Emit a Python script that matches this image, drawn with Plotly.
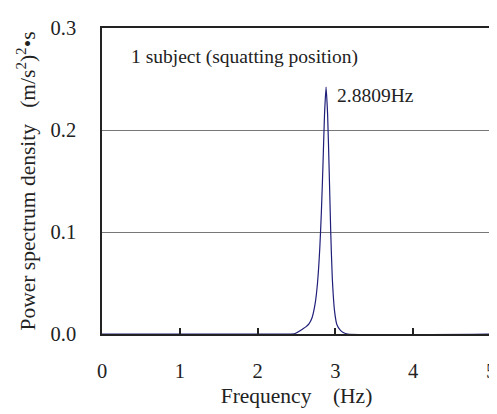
import plotly.graph_objects as go

freq = [0.0, 2.40, 2.48, 2.54, 2.58, 2.62, 2.66, 2.70, 2.74, 2.77, 2.80, 2.82, 2.84, 2.86, 2.88,
        2.90, 2.92, 2.94, 2.96, 2.99, 3.02, 3.06, 3.10, 3.16, 5.0]
psd = [0.0, 0.0, 0.0005, 0.003, 0.005, 0.007, 0.010, 0.016, 0.030, 0.050, 0.085, 0.120, 0.165, 0.215, 0.242,
       0.215, 0.160, 0.100, 0.055, 0.022, 0.009, 0.004, 0.0015, 0.0, 0.0]

x_ticks = [0, 1, 2, 3, 4, 5]
y_ticks = [0.0, 0.1, 0.2, 0.3]
y_tick_labels = ["0.0", "0.1", "0.2", "0.3"]
peak_label = "2.8809Hz"
note = "1 subject (squatting position)"

font = "Liberation Serif, Times New Roman, serif"
fs = 19.5
tfs = 21.5

fig = go.Figure()
fig.add_trace(go.Scatter(x=freq, y=psd, mode="lines",
                         line=dict(color="#1f1f7a", width=1.2, shape="spline", smoothing=0.5),
                         hoverinfo="skip", showlegend=False))

fig.add_annotation(x=2.995, y=0.2335, xref="x", yref="y", text=peak_label, showarrow=False,
                   xanchor="left", yanchor="middle", font=dict(family=font, size=fs, color="#222"))
fig.add_annotation(x=0.345, y=0.2715, xref="x", yref="y", text=note, showarrow=False,
                   xanchor="left", yanchor="middle", font=dict(family=font, size=fs, color="#222"))

fig.update_layout(
    width=497, height=414,
    margin=dict(l=94, r=11, t=9, b=88),
    paper_bgcolor="white", plot_bgcolor="white",
    font=dict(family=font, size=fs, color="#222"),
    xaxis=dict(range=[0, 5], tickvals=x_ticks, ticks="inside", ticklen=6, tickwidth=1.5,
               tickcolor="#222", showline=True, linecolor="#222", linewidth=1.5, mirror=True,
               showgrid=False, zeroline=False, tickfont=dict(size=20.5), ticklabelstandoff=18,
               title=dict(text="Frequency    (Hz)", font=dict(size=tfs), standoff=7)),
    yaxis=dict(range=[0, 0.3], tickvals=y_ticks, ticktext=y_tick_labels, ticks="",
               showline=True, linecolor="#222", linewidth=1.5, mirror=True,
               showgrid=True, gridcolor="#777", gridwidth=1, zeroline=False,
               tickfont=dict(size=20.5), ticklabelstandoff=20,
               title=dict(text="Power spectrum density   (m/s<sup>2</sup>)<sup>2</sup>•s",
                          font=dict(size=tfs), standoff=9)),
)

fig.write_html("out.html")
